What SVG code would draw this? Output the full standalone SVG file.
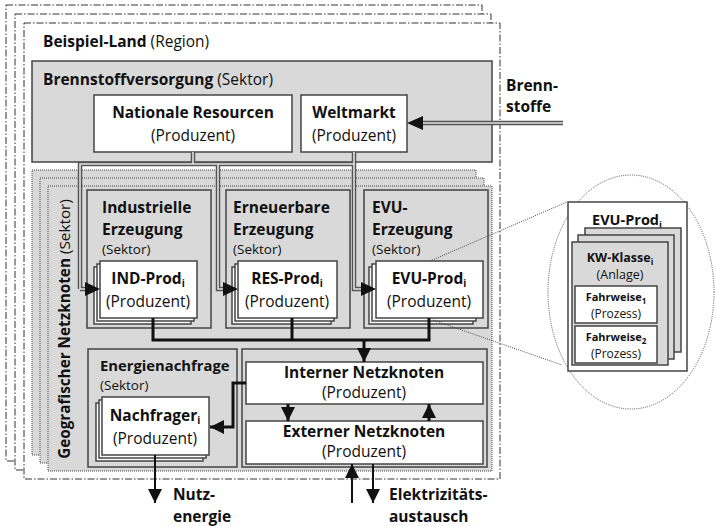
<svg xmlns="http://www.w3.org/2000/svg" width="715" height="526" viewBox="0 0 715 526">
  <style>
    text { font-family: "Open Sans", "Liberation Sans", sans-serif; fill: #111; }
    .b { font-weight: bold; }
    .t15 { font-size: 15.5px; }
    .t13 { font-size: 13.5px; }
    .t12 { font-size: 12px; }
    .t11 { font-size: 11px; }
    .mid { text-anchor: middle; }
    .region { fill: #fff; stroke: #333; stroke-width: 1; stroke-dasharray: 7 2 1.5 2; }
    .geo { fill: #d9d9d9; stroke: #444; stroke-width: 1; stroke-dasharray: 1 1; }
    .sector { fill: #d9d9d9; stroke: #444; stroke-width: 1.5; }
    .box { fill: #fff; stroke: #444; stroke-width: 1.5; }
    .boxg { fill: #d9d9d9; stroke: #444; stroke-width: 1.5; }
    .dbl-out { fill: none; stroke: #555; stroke-width: 4.5; }
    .dbl-in { fill: none; stroke: #e2e2e2; stroke-width: 1.6; }
    .flow { fill: none; stroke: #111; stroke-width: 3; }
    .flow2 { fill: none; stroke: #111; stroke-width: 2; }
    .zoomline { fill: none; stroke: #444; stroke-width: 1; stroke-dasharray: 1 1.2; }
    .head { fill: #111; }
  </style>
  <defs>
    <marker id="ah" markerUnits="userSpaceOnUse" markerWidth="15" markerHeight="14" refX="14" refY="7" orient="auto">
      <path d="M0,0 L14,7 L0,14 z" fill="#111"/>
    </marker>
  </defs>

  <!-- Region stack -->
  <g id="region">
    <rect class="region" x="6" y="5" width="476" height="456"/>
    <rect class="region" x="15" y="14" width="476" height="456"/>
    <rect class="region" x="24" y="23" width="476" height="456"/>
    <text x="43" y="47" class="t15"><tspan class="b">Beispiel-Land</tspan> (Region)</text>
  </g>

  <!-- Fuel supply sector -->
  <g id="brennstoffversorgung">
    <rect class="sector" x="32" y="61" width="460" height="101" stroke-width="2"/>
    <text x="43" y="85" class="t15"><tspan class="b">Brennstoffversorgung</tspan> (Sektor)</text>
  </g>
  <g id="nationale-resourcen">
    <rect class="box" x="94" y="95" width="198" height="57"/>
    <text x="193" y="118" class="t15 b mid">Nationale Resourcen</text>
    <text x="193" y="141" class="t15 mid">(Produzent)</text>
  </g>
  <g id="weltmarkt">
    <rect class="box" x="301" y="95" width="106" height="57"/>
    <text x="354" y="118" class="t15 b mid">Weltmarkt</text>
    <text x="354" y="141" class="t15 mid">(Produzent)</text>
  </g>
  <g id="brennstoffe-label">
    <text x="506" y="91" class="t15 b">Brenn-</text>
    <text x="506" y="112" class="t15 b">stoffe</text>
  </g>

  <!-- Geographic node stack -->
  <g id="geo-netzknoten">
    <rect class="geo" x="32" y="170" width="444" height="285"/>
    <rect class="geo" x="40" y="178" width="444" height="285"/>
    <rect class="geo" x="48" y="186" width="444" height="285"/>
    <text transform="translate(70,329) rotate(-90)" class="mid" font-size="15.3"><tspan class="b">Geografischer Netzknoten</tspan> (Sektor)</text>
  </g>

  <!-- Generation sectors -->
  <g id="ind-erzeugung">
    <rect class="sector" x="87" y="190" width="124" height="138"/>
    <text x="102" y="213" class="t15 b">Industrielle</text>
    <text x="102" y="235" class="t15 b">Erzeugung</text>
    <text x="102" y="254" class="t13">(Sektor)</text>
  </g>
  <g id="ind-prod">
    <rect class="box" x="94" y="267" width="97" height="57" stroke-width="1"/>
    <rect class="box" x="97" y="264" width="97" height="57" stroke-width="1"/>
    <rect class="box" x="100" y="261" width="97" height="57"/>
    <text x="148" y="284" class="t15 b mid">IND-Prod<tspan font-size="10" dy="3">i</tspan></text>
    <text x="148" y="307" class="t15 mid">(Produzent)</text>
  </g>

  <g id="res-erzeugung">
    <rect class="sector" x="226" y="190" width="124" height="138"/>
    <text x="233" y="213" class="t15 b">Erneuerbare</text>
    <text x="233" y="235" class="t15 b">Erzeugung</text>
    <text x="233" y="254" class="t13">(Sektor)</text>
  </g>
  <g id="res-prod">
    <rect class="box" x="232" y="267" width="99" height="57" stroke-width="1"/>
    <rect class="box" x="235" y="264" width="99" height="57" stroke-width="1"/>
    <rect class="box" x="238" y="261" width="99" height="57"/>
    <text x="287" y="284" class="t15 b mid">RES-Prod<tspan font-size="10" dy="3">i</tspan></text>
    <text x="287" y="307" class="t15 mid">(Produzent)</text>
  </g>

  <g id="evu-erzeugung">
    <rect class="sector" x="364" y="190" width="124" height="138"/>
    <text x="372" y="213" class="t15 b">EVU-</text>
    <text x="372" y="235" class="t15 b">Erzeugung</text>
    <text x="372" y="254" class="t13">(Sektor)</text>
  </g>
  <g id="evu-prod">
    <rect class="box" x="369" y="267" width="104" height="57" stroke-width="1"/>
    <rect class="box" x="372" y="264" width="104" height="57" stroke-width="1"/>
    <rect class="box" x="376" y="261" width="107" height="57"/>
    <text x="429" y="284" class="t15 b mid">EVU-Prod<tspan font-size="10" dy="3">i</tspan></text>
    <text x="429" y="307" class="t15 mid">(Produzent)</text>
  </g>

  <!-- Demand sector -->
  <g id="energienachfrage">
    <rect class="sector" x="88" y="349" width="149" height="118"/>
    <text x="100" y="371" class="b" font-size="14.8">Energienachfrage</text>
    <text x="100" y="390" class="t13">(Sektor)</text>
  </g>
  <g id="nachfrager">
    <rect class="box" x="96" y="403" width="107" height="58" stroke-width="1"/>
    <rect class="box" x="99" y="400" width="107" height="58" stroke-width="1"/>
    <rect class="box" x="102" y="397" width="107" height="58"/>
    <text x="155" y="421" class="t15 b mid">Nachfrager<tspan font-size="10" dy="3">i</tspan></text>
    <text x="155" y="444" class="t15 mid">(Produzent)</text>
  </g>

  <!-- Grid nodes -->
  <g id="netz-container">
    <rect class="sector" x="242" y="349" width="245" height="118"/>
  </g>
  <g id="interner-netzknoten">
    <rect class="box" x="246" y="362" width="237" height="42"/>
    <text x="364" y="378" class="t15 b mid">Interner Netzknoten</text>
    <text x="364" y="398" class="t15 mid">(Produzent)</text>
  </g>
  <g id="externer-netzknoten">
    <rect class="box" x="246" y="421" width="237" height="43"/>
    <text x="364" y="437" class="t15 b mid">Externer Netzknoten</text>
    <text x="364" y="457" class="t15 mid">(Produzent)</text>
  </g>

  <!-- Detail view of EVU-Prod -->
  <g id="detail-evu-prod">
    <ellipse cx="631" cy="292" rx="83" ry="117" fill="none" stroke="#555" stroke-width="1" stroke-dasharray="1 1.2"/>
    <rect class="box" x="568" y="202" width="119" height="169"/>
    <text x="627" y="225" class="b mid" font-size="14.5">EVU-Prod<tspan font-size="9.5" dy="3">i</tspan></text>
  </g>
  <g id="kw-klasse">
    <rect class="boxg" x="585" y="228" width="96" height="124"/>
    <rect class="boxg" x="578" y="235" width="96" height="124"/>
    <rect class="boxg" x="572" y="242" width="96" height="123"/>
    <text x="620" y="262" class="b mid" font-size="12.5">KW-Klasse<tspan font-size="8.5" dy="3">i</tspan></text>
    <text x="620" y="279" class="mid" font-size="12.5">(Anlage)</text>
  </g>
  <g id="fahrweise-1">
    <rect class="box" x="575" y="286" width="82" height="37"/>
    <text x="616" y="301" class="t11 b mid">Fahrweise<tspan font-size="8" dy="2.5">1</tspan></text>
    <text x="616" y="318" class="t12 mid">(Prozess)</text>
  </g>
  <g id="fahrweise-2">
    <rect class="box" x="575" y="326" width="82" height="37"/>
    <text x="616" y="341" class="t11 b mid">Fahrweise<tspan font-size="8" dy="2.5">2</tspan></text>
    <text x="616" y="358" class="t12 mid">(Prozess)</text>
  </g>

  <!-- Connectors -->
  <g id="connectors">
    <!-- fuel pipes (double lines) -->
    <path class="dbl-out" d="M563,123 H422 M193,152 V164 M80,289 V164 H354 M218,164 V289 H224 M354,152 V289 H362 M80,289 H86"/>
    <path class="dbl-in" d="M563,123 H422 M193,152 V164 M80,289 V164 H354 M218,164 V289 H224 M354,152 V289 H362 M80,289 H86"/>
    <polygon class="head" points="407,123 423,116 423,130"/>
    <polygon class="head" points="100,289 85,282 85,296"/>
    <polygon class="head" points="238,289 223,282 223,296"/>
    <polygon class="head" points="376,289 361,282 361,296"/>

    <!-- electricity from producers to the internal node -->
    <path class="flow" d="M153,318 V340 H429 V318 M292,318 V340"/>
    <path class="flow" d="M364,340 V362" marker-end="url(#ah)"/>
    <!-- internal node to demand -->
    <path class="flow" d="M246,383 H233 V427 H210" marker-end="url(#ah)"/>
    <!-- between internal and external node -->
    <path class="flow" d="M288,404 V421" marker-end="url(#ah)"/>
    <path class="flow" d="M429,421 V404" marker-end="url(#ah)"/>
    <!-- useful energy out -->
    <path class="flow2" d="M155,455 V503" marker-end="url(#ah)"/>
    <!-- electricity exchange -->
    <path class="flow2" d="M352,503 V464" marker-end="url(#ah)"/>
    <path class="flow2" d="M373,464 V503" marker-end="url(#ah)"/>

    <!-- magnifier guide lines -->
    <path class="zoomline" d="M430,261 L567,202 M433,320 L562,365"/>
  </g>

  <g id="labels-out">
    <text x="173" y="500" class="t15 b">Nutz-</text>
    <text x="173" y="522" class="t15 b">energie</text>
    <text x="389" y="500" class="t15 b">Elektrizitäts-</text>
    <text x="389" y="522" class="t15 b">austausch</text>
  </g>
</svg>
